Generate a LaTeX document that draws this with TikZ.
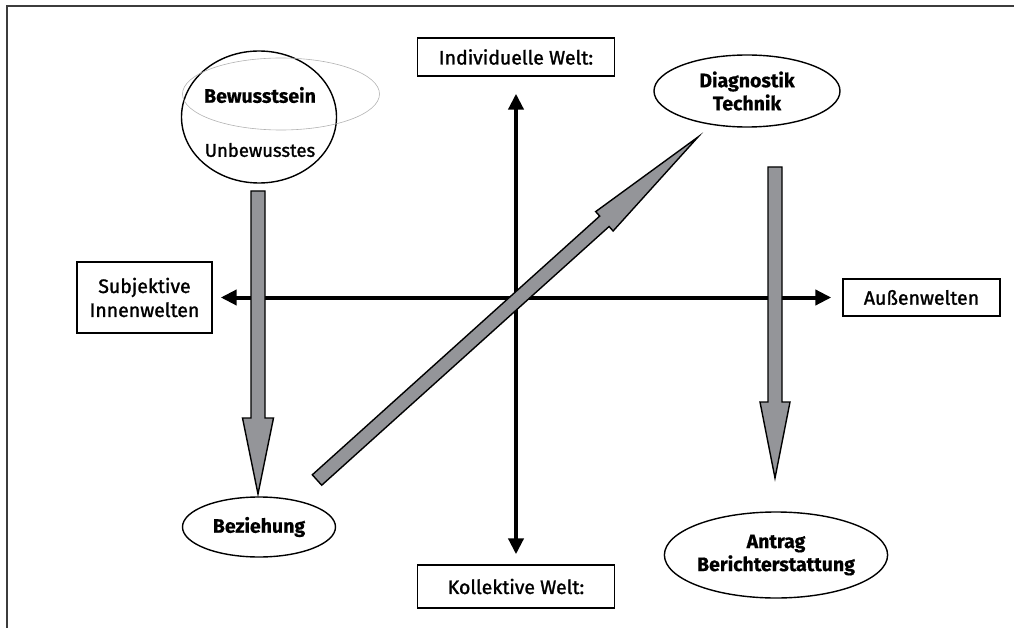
\documentclass[tikz,border=0pt]{standalone}
\usepackage{fontspec}
\setmainfont{Fira Sans}[BoldFeatures={FakeBold=0.6}]
\newfontfamily\medfont{Fira Sans}[FakeBold=1.4]
\usetikzlibrary{arrows.meta,shapes.geometric}
\definecolor{arrowgray}{RGB}{148,149,153}
\definecolor{framegray}{RGB}{60,60,60}

\begin{document}
\begin{tikzpicture}[x=1pt,y=-1pt,
    txt/.style={font=\fontsize{19.5}{24}\selectfont\medfont,align=center},
    box/.style={txt,draw,line width=1.4pt,inner sep=0pt},
    bubble/.style={txt,ellipse,draw,line width=1.4pt,inner sep=0pt,font=\fontsize{19.5}{23}\selectfont\bfseries},
    axis/.style={line width=4pt,{Triangle[length=16pt,width=15pt]}-{Triangle[length=16pt,width=15pt]}},
    blockarrow/.style={draw,line width=1.4pt,fill=arrowgray,line join=miter}]
    \useasboundingbox (0,0) rectangle (1014,628);
    \draw[framegray,line width=2pt] (1014,6.5) -- (7,6.5) -- (7,628);

    \node[box,minimum width=197pt,minimum height=38pt] (indiv) at (516,57) {Individuelle Welt:};
    \node[box,minimum width=197pt,minimum height=43pt] (kollek) at (516,586.5) {Kollektive Welt:};
    \node[box,minimum width=135pt,minimum height=71pt] (innen) at (144.5,297.5) {Subjektive\\Innenwelten};
    \node[box,minimum width=157pt,minimum height=37pt] (aussen) at (921.5,297.5) {Außenwelten};

    \node[ellipse,draw,line width=1.4pt,minimum width=155pt,minimum height=132pt] (seele) at (259,117) {};
    \node[ellipse,draw=gray!60,line width=0.6pt,minimum width=197pt,minimum height=72pt] (bewusst) at (281,94) {};
    \node[txt,font=\fontsize{19.5}{23}\selectfont\bfseries] (bewtxt) at (260,95) {Bewusstsein};
    \node[txt,font=\fontsize{18.5}{23}\selectfont\medfont] (unbtxt) at (260,150) {Unbewusstes};
    \node[bubble,minimum width=186pt,minimum height=72pt] (diag) at (747,91) {Diagnostik\\Technik};
    \node[bubble,minimum width=153pt,minimum height=60pt] (bez) at (259,527) {Beziehung};
    \node[bubble,minimum width=223pt,minimum height=86pt] (antrag) at (776,555) {Antrag\\Berichterstattung};

    \draw[axis,shorten <=17pt,shorten >=10pt] (indiv) -- (kollek);
    \draw[axis,shorten <=8pt,shorten >=11pt] (innen) -- (aussen);

    \draw[blockarrow] (251,191) -- (265,191) -- (265,418) -- (273.5,418) -- (258,494)
        -- (242.5,418) -- (251,418) -- cycle;
    \draw[blockarrow] (768,167) -- (782,167) -- (782,402) -- (790,402) -- (775,478)
        -- (760,402) -- (768,402) -- cycle;
    \draw[blockarrow] (321.7,485.2) -- (609.1,226.5) -- (613.1,231.0) -- (698,137)
        -- (595.7,211.6) -- (599.7,216.1) -- (312.3,474.8) -- cycle;
\end{tikzpicture}
\end{document}
